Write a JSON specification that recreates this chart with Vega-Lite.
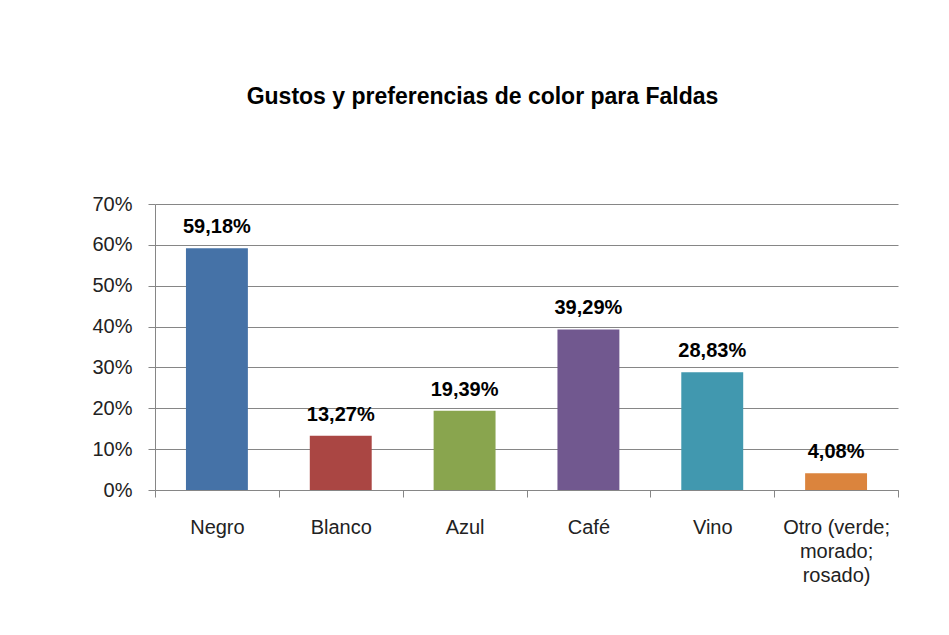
{
  "$schema": "https://vega.github.io/schema/vega-lite/v6.json",
  "autosize": "none",
  "width": 743,
  "height": 286,
  "padding": {"left": 155, "top": 204, "right": 51, "bottom": 145},
  "background": "white",
  "config": {
    "locale": {"number": {"decimal": ",", "thousands": ".", "grouping": [3], "currency": ["$", ""]}},
    "view": {"stroke": null},
    "font": "Liberation Sans"
  },
  "title": {
    "text": "Gustos y preferencias de color para Faldas",
    "font": "Liberation Sans",
    "fontSize": 23,
    "fontWeight": "bold",
    "color": "#000000",
    "anchor": "middle",
    "frame": "group",
    "dx": -44,
    "offset": 85
  },
  "data": {
    "values": [
      {"color": "Negro", "valor": 0.5918},
      {"color": "Blanco", "valor": 0.1327},
      {"color": "Azul", "valor": 0.1939},
      {"color": "Café", "valor": 0.3929},
      {"color": "Vino", "valor": 0.2883},
      {"color": "Otro (verde; morado; rosado)", "valor": 0.0408}
    ]
  },
  "encoding": {
    "x": {
      "field": "color",
      "type": "nominal",
      "sort": null,
      "scale": {"paddingInner": 0, "paddingOuter": 0},
      "axis": {
        "title": null,
        "labelAngle": 0,
        "labelFont": "Liberation Sans",
        "labelFontSize": 20,
        "labelColor": "#222222",
        "labelPadding": 20,
        "labelLineHeight": 24,
        "labelExpr": "datum.label == 'Otro (verde; morado; rosado)' ? ['Otro (verde;', 'morado;', 'rosado)'] : datum.label",
        "tickBand": "extent",
        "tickSize": 7,
        "tickColor": "#868686",
        "domainColor": "#868686",
        "grid": false
      }
    },
    "y": {
      "field": "valor",
      "type": "quantitative",
      "scale": {"domain": [0, 0.7]},
      "axis": {
        "title": null,
        "format": ".0%",
        "values": [0, 0.1, 0.2, 0.3, 0.4, 0.5, 0.6, 0.7],
        "labelFont": "Liberation Sans",
        "labelFontSize": 20,
        "labelColor": "#222222",
        "labelPadding": 16,
        "tickSize": 7,
        "tickColor": "#868686",
        "domainColor": "#868686",
        "gridColor": "#868686",
        "gridOpacity": 1
      }
    }
  },
  "layer": [
    {
      "mark": {"type": "bar", "width": {"band": 0.5}},
      "encoding": {
        "color": {
          "field": "color",
          "type": "nominal",
          "sort": null,
          "legend": null,
          "scale": {
            "domain": ["Negro", "Blanco", "Azul", "Café", "Vino", "Otro (verde; morado; rosado)"],
            "range": ["#4572A7", "#AA4643", "#89A54E", "#71588F", "#4198AF", "#DB843D"]
          }
        }
      }
    },
    {
      "mark": {"type": "text", "baseline": "alphabetic", "dy": -15, "fontSize": 20, "fontWeight": "bold", "font": "Liberation Sans", "color": "#000000"},
      "encoding": {
        "text": {"field": "valor", "type": "quantitative", "format": ".2%"}
      }
    }
  ]
}
